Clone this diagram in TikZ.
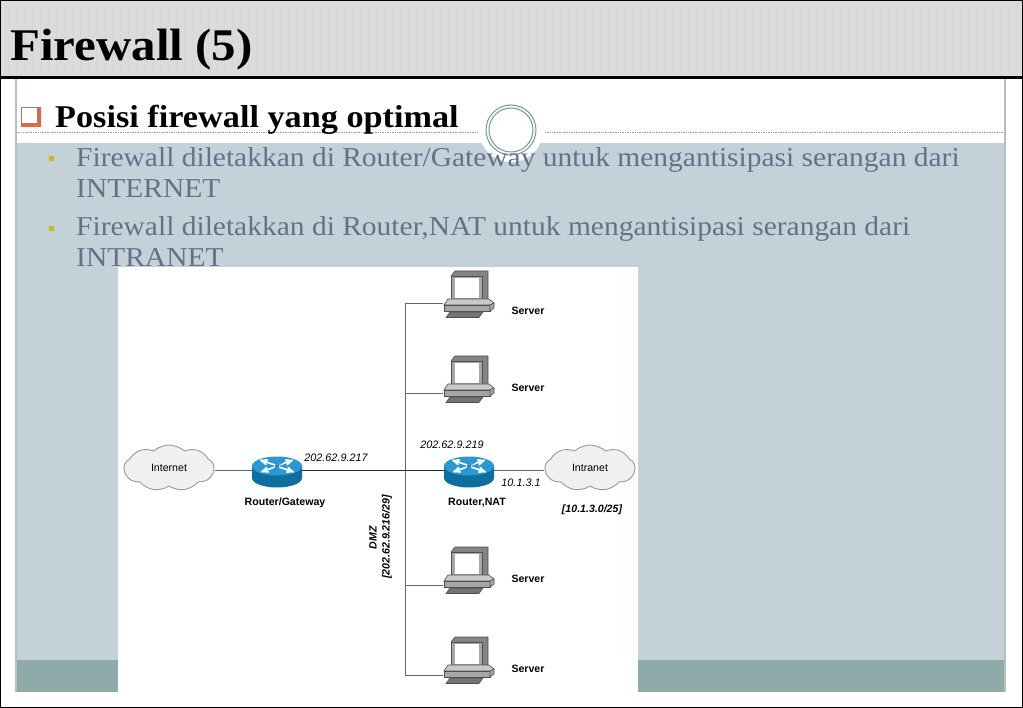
\documentclass[tikz,border=0pt]{standalone}
\usepackage{fontspec}
\setmainfont{Liberation Serif}
\setsansfont{Liberation Sans}
\newfontfamily\slidefont[FakeStretch=1.08]{Liberation Serif}
\usepackage{tikz}
\usetikzlibrary{arrows}
\usetikzlibrary{positioning}
\usetikzlibrary{shapes.symbols}

\definecolor{headgray}{HTML}{DBDBDB}
\definecolor{headgrid}{HTML}{D6D6D8}
\definecolor{panelblue}{HTML}{C5D1D8}
\definecolor{panelteal}{HTML}{8FABA9}
\definecolor{panelline}{HTML}{B4C0BE}
\definecolor{ringteal}{HTML}{6F9A98}
\definecolor{bodytext}{HTML}{65708A}
\definecolor{bulletgold}{HTML}{CDB52B}
\definecolor{boxred}{HTML}{D9694A}
\definecolor{routertop}{HTML}{2B98D2}
\definecolor{routerside}{HTML}{0E6E9E}
\definecolor{pcgray}{HTML}{A6A6A6}
\definecolor{pcdark}{HTML}{4F4F4F}

\begin{document}
\begin{tikzpicture}[x=1pt,y=-1pt,>=stealth',
  title node/.style={anchor=base west,inner sep=0pt,font=\slidefont\bfseries\fontsize{45.3}{45.3}\selectfont},
  head node/.style={anchor=base west,inner sep=0pt,font=\slidefont\bfseries\fontsize{31.7}{31.7}\selectfont},
  body node/.style={anchor=base west,inner sep=0pt,text=bodytext,font=\slidefont\fontsize{27.3}{27.3}\selectfont},
  dot node/.style={fill=bulletgold,inner sep=0pt,minimum size=5pt},
  net node/.style={cloud,cloud puffs=9,cloud puff arc=85,cloud ignores aspect,draw=black!40,fill=black!6,line width=0.9pt,
    minimum width=90pt,minimum height=46pt,inner sep=0pt,font=\sffamily\fontsize{10.6}{10.6}\selectfont},
  addr node/.style={inner sep=0pt,font=\sffamily\itshape\fontsize{10.8}{10.8}\selectfont},
  name node/.style={inner sep=0pt,font=\sffamily\bfseries\fontsize{10.6}{10.6}\selectfont},
  net name/.style={inner sep=0pt,font=\sffamily\bfseries\itshape\fontsize{10.6}{10.6}\selectfont},
  wire/.style={draw=black!60,line width=0.9pt},
  router/.pic={
    \node[inner sep=0pt,minimum width=50pt,minimum height=20pt] (-body) at (0,5) {};
    \fill[routerside] (-25,0) -- (-25,12) arc[start angle=180,end angle=360,x radius=25,y radius=-9.5] -- (25,0) -- cycle;
    \fill[routertop] (0,0) ellipse[x radius=25,y radius=9.5];
    \draw[white,line width=1.6pt,->] (-2,-1) -- (-17,-6);
    \draw[white,line width=1.6pt,->] (2,1) -- (17,6);
    \draw[white,line width=1.6pt,->] (2,-1) -- (16,-6);
    \draw[white,line width=1.6pt,->] (-2,1) -- (-16,6);
    \draw[routerside,line width=0.5pt] (-4,4) -- (6,-4);
  },
  server/.pic={
    \node[inner sep=0pt,minimum width=51pt,minimum height=9pt] (-base) at (25.5,35) {};
    \filldraw[draw=pcdark,fill=pcdark!70,line width=0.6pt] (8,5) -- (12,0) -- (45,0) -- (45,28) -- (38,33) -- cycle;
    \filldraw[draw=pcdark,fill=pcgray,line width=0.6pt] (8,5) rectangle (39,31);
    \fill[white] (12,7) rectangle (36,27);
    \filldraw[draw=pcdark,fill=pcgray!60,line width=0.6pt] (5,28) -- (46,28) -- (51,32) -- (47,34) -- (1,34) -- cycle;
    \filldraw[draw=pcdark,fill=pcgray,line width=0.6pt] (1,34) rectangle (47,40);
    \filldraw[draw=pcdark,fill=pcgray,line width=0.6pt] (47,40) -- (51,37) -- (51,32) -- (47,34) -- cycle;
    \filldraw[draw=pcdark,fill=pcgray!70!black,line width=0.6pt] (7,41) -- (40,41) -- (36,46.5) -- (3,46.5) -- cycle;
  }]
  \useasboundingbox (0,0) rectangle (1023,708);

  % slide background
  \fill[white] (0,0) rectangle (1023,708);
  \fill[panelblue] (16,143) rectangle (1005,660);
  \fill[panelteal] (16,660) rectangle (1005,692);
  \draw[panelline,line width=1.2pt] (16,78) -- (16,692);
  \draw[panelline,line width=1.2pt] (1005,78) -- (1005,692);
  \fill[headgray] (0,0) rectangle (1023,78);
  \draw[headgrid,line width=0.3pt,xstep=8,ystep=8] (0,0) grid (1023,78);
  \draw[black,line width=2pt] (0,0) rectangle (1023,708);
  \draw[black,line width=3pt] (0,78) -- (1023,78);

  \draw[black!40,densely dotted,line width=0.7pt] (16,132) -- (478,132);
  \draw[black!40,densely dotted,line width=0.7pt] (545,132) -- (1005,132);
  \fill[white] (511,130) circle[radius=32];
  \draw[ringteal,line width=1pt] (511,130) circle[radius=25];
  \draw[ringteal,line width=1pt] (511,130) circle[radius=22];

  % slide text
  \node[title node] (title) at (10,61) {Firewall (5)};
  \draw[boxred,line width=1.5pt,fill=white] (21.5,107.5) rectangle (40,126.5);
  \fill[boxred] (21,123) rectangle (40.5,127);
  \fill[boxred] (37,107) rectangle (40.5,127);
  \node[head node] (head) at (55,128) {Posisi firewall yang optimal};
  \node[dot node] (dot1) at (51,159) {};
  \node[dot node] (dot2) at (51,229) {};
  \node[body node] (line1) at (76,167) {Firewall diletakkan di Router/Gateway untuk mengantisipasi serangan dari};
  \node[body node] (line2) at (76,198) {INTERNET};
  \node[body node] (line3) at (76,236) {Firewall diletakkan di Router,NAT untuk mengantisipasi serangan dari};
  \node[body node] (line4) at (76,267) {INTRANET};

  % network picture
  \fill[white] (118,267) rectangle (638,692);

  \node[net node] (internet) at (169,468) {Internet};
  \node[net node] (intranet) at (590,468) {Intranet};
  \pic (gw) at (277,466) {router};
  \pic (nat) at (469,466) {router};
  \pic (srv1) at (443,271) {server};
  \pic (srv2) at (443,356) {server};
  \pic (srv3) at (443,547) {server};
  \pic (srv4) at (443,637) {server};

  \coordinate (bus1) at (405,303);
  \coordinate (bus2) at (405,393);
  \coordinate (bus3) at (405,585);
  \coordinate (bus4) at (405,675);

  \draw[wire] (bus1) -- (bus4);
  \draw[wire] (bus1) -- (bus1 -| srv1-base.west);
  \draw[wire] (bus2) -- (bus2 -| srv2-base.west);
  \draw[wire] (bus3) -- (bus3 -| srv3-base.west);
  \draw[wire] (bus4) -- (bus4 -| srv4-base.west);
  \draw[wire] (internet.east |- 0,470) -- (gw-body.west |- 0,470);
  \draw[black!85,line width=1pt] (gw-body.east |- 0,470) -- (nat-body.west |- 0,470);
  \draw[wire] (nat-body.east |- 0,470) -- (intranet.west |- 0,470);

  \node[name node] (gwname) at (285,503) {Router/Gateway};
  \node[name node] (natname) at (477,503) {Router,NAT};
  \node[addr node] (gwaddr) at (336,458) {202.62.9.217};
  \node[addr node] (nataddr) at (452,445) {202.62.9.219};
  \node[addr node] (lanaddr) at (521,483) {10.1.3.1};
  \node[net name] (lannet) at (592,510) {[10.1.3.0/25]};
  \node[net name,rotate=90] (dmz) at (373,538) {DMZ};
  \node[net name,rotate=90] (dmznet) at (387,537) {[202.62.9.216/29]};
  \node[name node] (srv1name) at (528,311) {Server};
  \node[name node] (srv2name) at (528,388) {Server};
  \node[name node] (srv3name) at (528,579) {Server};
  \node[name node] (srv4name) at (528,669) {Server};
\end{tikzpicture}
\end{document}
